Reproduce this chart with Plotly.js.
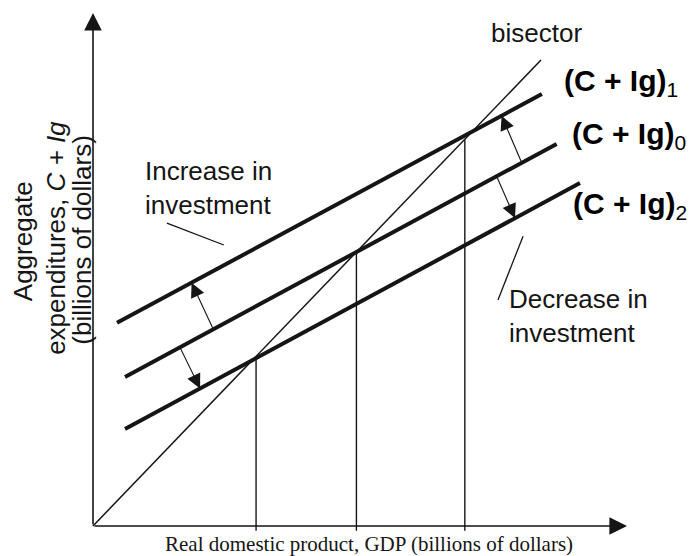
<!DOCTYPE html>
<html>
<head>
<meta charset="utf-8">
<script src="https://cdn.plot.ly/plotly-3.0.1.min.js"></script>
<style>html,body{margin:0;padding:0;background:#fff;}#chart{width:695px;height:556px;}</style>
</head>
<body>
<div id="chart"></div>
<script>
// ---- data (model units: bisector is y = x) ----
const bisectorX = [0, 100];
const bisectorY = [0, 100];
const ae1X = [5.36, 100.2];   // (C + Ig)1
const ae1Y = [43.6, 92.7];
const ae0X = [7.14, 103.5];   // (C + Ig)0
const ae0Y = [31.97, 82.0];
const ae2X = [7.14, 108.7];   // (C + Ig)2
const ae2Y = [20.8, 73.6];
const equilibriumGDP = [36.4, 58.8, 83.0];
const axisTipX = 119.2;
const axisTipY = 110.1;
// shift arrows: [tail x on (C+Ig)0, tip x on target line, target]
const shiftTailX = [95.7, 90.1, 26.85, 19.4];
const shiftTipX  = [91.2, 94.2, 22.0, 23.9];
const shiftTarget = ['up', 'down', 'up', 'down'];
// pointer lines for the notes
const increasePtrX = [16.5, 29.2];
const increasePtrY = [65.0, 60.3];
const decreasePtrX = [90.4, 96.0];
const decreasePtrY = [48.5, 62.2];
const lineLabels = ['<b>(C + Ig)</b><sub>1</sub>', '<b>(C + Ig)</b><sub>0</sub>', '<b>(C + Ig)</b><sub>2</sub>'];

function onLine(xs, ys, x) {
  return ys[0] + (ys[1] - ys[0]) / (xs[1] - xs[0]) * (x - xs[0]);
}

const sans = 'Liberation Sans, Arial, sans-serif';
const ink = '#151515';

const traces = [];
function seg(xs, ys, w) {
  traces.push({x: xs, y: ys, type: 'scatter', mode: 'lines',
    line: {color: ink, width: w}, hoverinfo: 'skip', showlegend: false});
}
seg(bisectorX, bisectorY, 1.5);
seg(ae1X, ae1Y, 4);
seg(ae0X, ae0Y, 4);
seg(ae2X, ae2Y, 4);
equilibriumGDP.forEach(g => seg([g, g], [-1, g], 1.4));
seg(increasePtrX, increasePtrY, 1.3);
seg(decreasePtrX, decreasePtrY, 1.3);

const annotations = [];
// axes with arrows
annotations.push({x: axisTipX, y: 0, ax: 0, ay: 0, xref: 'x', yref: 'y', axref: 'x', ayref: 'y',
  text: '', showarrow: true, arrowhead: 2, arrowsize: 2.2, arrowwidth: 1.6, arrowcolor: ink});
annotations.push({x: 0, y: axisTipY, ax: 0, ay: 0, xref: 'x', yref: 'y', axref: 'x', ayref: 'y',
  text: '', showarrow: true, arrowhead: 2, arrowsize: 2.2, arrowwidth: 1.6, arrowcolor: ink});
// shift arrows
shiftTailX.forEach((tx, i) => {
  const tgt = shiftTarget[i] === 'up' ? [ae1X, ae1Y] : [ae2X, ae2Y];
  const px = shiftTipX[i];
  annotations.push({x: px, y: onLine(tgt[0], tgt[1], px), ax: tx, ay: onLine(ae0X, ae0Y, tx),
    xref: 'x', yref: 'y', axref: 'x', ayref: 'y', text: '', showarrow: true,
    arrowhead: 2, arrowsize: 2.6, arrowwidth: 1.1, arrowcolor: ink});
});
function txt(t, x, y, opts) {
  annotations.push(Object.assign({text: t, x: x, y: y, xref: 'x', yref: 'y', showarrow: false,
    font: {family: sans, size: 26, color: ink}, xanchor: 'left', yanchor: 'middle', align: 'left'}, opts || {}));
}
txt('bisector', 98.9, 105.8, {xanchor: 'center'});
txt(lineLabels[0], 104.8, 95.2, {font: {family: sans, size: 30, color: '#000'}});
txt(lineLabels[1], 106.5, 83.7, {font: {family: sans, size: 30, color: '#000'}});
txt(lineLabels[2], 106.8, 68.7, {font: {family: sans, size: 30, color: '#000'}});
txt('Increase in<br>investment', 11.1, 72.6);
txt('Decrease in<br>investment', 92.5, 45.1);
txt('Aggregate', -15.7, 61.05, {textangle: -90, xanchor: 'center'});
txt('expenditures, <i>C + Ig</i>', -8.3, 61.8, {textangle: -90, xanchor: 'center'});
txt('(billions of dollars)', -2.4, 61.5, {textangle: -90, xanchor: 'center'});
txt('Real domestic product, GDP (billions of dollars)', 61.5, -3.9,
  {xanchor: 'center', font: {family: 'Liberation Serif, Times New Roman, serif', size: 21, color: ink}});

const hidden = {visible: false, showgrid: false, zeroline: false, fixedrange: true};
const layout = {
  width: 695, height: 556,
  margin: {l: 0, r: 0, t: 0, b: 0, pad: 0},
  paper_bgcolor: '#ffffff', plot_bgcolor: '#ffffff',
  xaxis: Object.assign({range: [-20.76, 134.38]}, hidden),
  yaxis: Object.assign({range: [-6.44, 112.88]}, hidden),
  showlegend: false,
  annotations: annotations
};
Plotly.newPlot('chart', traces, layout, {staticPlot: true, displayModeBar: false});
</script>
</body>
</html>
